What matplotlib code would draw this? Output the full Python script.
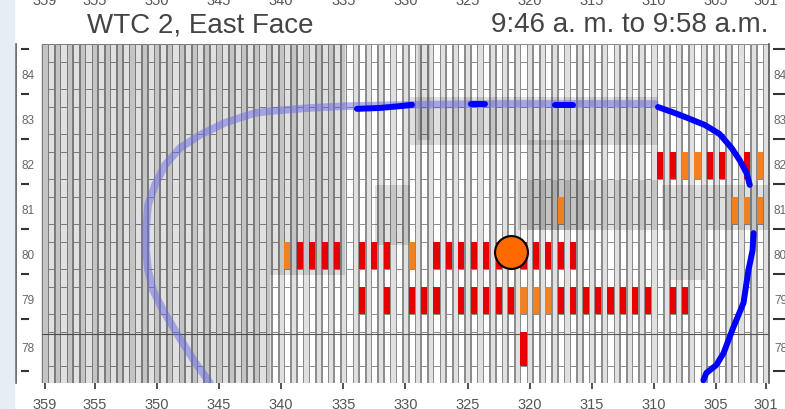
import numpy as np
import matplotlib.pyplot as plt
from matplotlib.patches import Rectangle

plt.rcParams['font.family'] = ['Liberation Sans', 'DejaVu Sans']

# facade grid: column numbers and floors
columns = np.arange(359, 300, -1)
floors = [84, 83, 82, 81, 80, 79, 78]
floor_bottom = [83.5, 82.5, 81.5, 80.5, 79.5, 78.5, 77.344]
xtick_cols = [359, 355, 350, 345, 340, 335, 330, 325, 320, 315, 310, 305, 301]

# windows with fire, named by the column on their left (higher number)
red_82 = [310, 309, 306, 305, 303]
orange_82 = [308, 307, 302]
orange_81 = [318, 304, 303, 302]
red_80 = [339, 338, 337, 336, 334, 333, 332, 328, 327, 326, 325, 324,
          323, 322, 321, 320, 319, 318, 317]
orange_80 = [340, 330]
red_79 = [334, 332, 330, 329, 328, 326, 325, 324, 323, 322,
          318, 317, 316, 315, 314, 313, 312, 311, 309, 308]
orange_79 = [321, 320, 319]
red_78 = [321]

# smoke obscured areas: column from, column to, floor from, floor to
haze_c0 = [359.3, 359.3, 329.0, 329.6, 320.1, 320.95, 332.45, 309.36, 308.7]
haze_c1 = [334.86, 340.9, 328.03, 309.7, 315.6, 309.7, 329.6, 300.83, 305.9]
haze_f0 = [79.48, 77.08, 82.48, 82.37, 80.48, 80.48, 80.14, 80.48, 79.37]
haze_f1 = [84.61, 79.48, 84.61, 83.43, 82.48, 81.59, 81.48, 81.48, 80.48]

# aircraft impact / damage outline (column, floor)
path_c = [345.73, 346.93, 348.30, 349.51, 350.31, 350.71, 350.87, 350.87, 350.71,
          350.15, 349.35, 348.14, 346.53, 344.52, 342.11, 340.09, 337.68, 334.86,
          329.47, 322.4, 309.93]
path_f = [77.08, 77.54, 78.14, 78.70, 79.14, 79.59, 80.03, 80.48, 81.03,
          81.48, 81.92, 82.30, 82.59, 82.86, 83.08, 83.14, 83.19, 83.23,
          83.26, 83.28, 83.28]
seg1_c, seg1_f = [333.90, 332.05, 330.44, 329.47], [83.17, 83.19, 83.23, 83.26]
seg2_c, seg2_f = [324.73, 323.60], [83.28, 83.28]
seg3_c, seg3_f = [317.97, 316.52], [83.26, 83.26]
seg4_c = [309.68, 308.55, 307.51, 305.90, 304.72, 303.76, 303.11, 302.55, 302.30]
seg4_f = [83.21, 83.10, 82.99, 82.81, 82.61, 82.30, 82.03, 81.74, 81.48]
seg5_c = [301.99, 302.07, 302.40, 302.80, 303.61, 304.41, 304.98, 305.79, 306.03]
seg5_f = [80.41, 80.03, 79.59, 78.86, 78.32, 77.74, 77.48, 77.30, 77.14]

origin_c, origin_f = 321.5, 80.0

ytop, ybot = 84.611, 77.078

fig = plt.figure(figsize=(7.85, 4.09), dpi=100)
fig.patches.append(Rectangle((0, 0), 14 / 785, 1, transform=fig.transFigure,
                             color='#e6edf5', zorder=0))
ax = fig.add_axes([16 / 785, 26 / 409, 753 / 785, 339 / 409])
ax.set_xlim(361.33, 300.75)
ax.set_ylim(ybot, ytop)

edge = '#8a8a8a'
slot_x = columns[:-1] - 0.5
ax.bar(slot_x, ytop - ybot, bottom=ybot, width=0.5, color='white',
       edgecolor=edge, lw=0.7, zorder=1)
ax.bar(columns, ytop - ybot, bottom=ybot, width=0.42, color='#e0e0e0',
       edgecolor=edge, lw=0.7, zorder=1)

win_top = {}
win_bot = {}
for f, fb in zip(floors, floor_bottom):
    win_top[f] = f + 0.5 - 0.289
    win_bot[f] = fb + 0.111
    ax.bar(slot_x, win_top[f] - win_bot[f], bottom=win_bot[f], width=0.5,
           color='white', edgecolor=edge, lw=0.7, zorder=2)

ax.hlines(78.17, columns[0] + 0.25, 300.75, color='#555555', lw=0.8, zorder=3)

for c0, c1, f0, f1 in zip(haze_c0, haze_c1, haze_f0, haze_f1):
    ax.add_patch(Rectangle((c1, f0), c0 - c1, f1 - f0, color='black',
                           alpha=0.12, lw=0, zorder=4))

fire = [(82, red_82, '#e60000'), (82, orange_82, '#f08020'),
        (81, orange_81, '#f08020'), (80, red_80, '#e60000'),
        (80, orange_80, '#f08020'), (79, red_79, '#e60000'),
        (79, orange_79, '#f08020'), (78, red_78, '#e60000')]
for f, cols, col in fire:
    ax.bar(np.array(cols) - 0.5, win_top[f] - win_bot[f], bottom=win_bot[f],
           width=0.5, color=col, lw=0, zorder=5)

ax.plot(path_c, path_f, color='#6a6ae6', alpha=0.5, lw=5.5,
        solid_capstyle='round', zorder=6)
for sc, sf in [(seg1_c, seg1_f), (seg2_c, seg2_f), (seg3_c, seg3_f),
               (seg4_c, seg4_f), (seg5_c, seg5_f)]:
    ax.plot(sc, sf, color='#0000ff', lw=4.3, solid_capstyle='round', zorder=7)

ax.scatter([origin_c], [origin_f], s=560, color='#ff6a00', edgecolor='black',
           lw=1.5, zorder=8)

# axes decoration
for s in ['top', 'bottom']:
    ax.spines[s].set_visible(False)
for s in ['left', 'right']:
    ax.spines[s].set_color('#555555')
    ax.spines[s].set_linewidth(1.2)

ax.set_xticks(xtick_cols)
ax.set_xticklabels([str(c) for c in xtick_cols])
ax.tick_params(axis='x', length=4, width=1.2, pad=7, labelsize=10.5,
               colors='#333333', labelcolor='#555555')
ax.set_yticks([])
top = ax.secondary_xaxis('top')
top.set_xticks(xtick_cols)
top.set_xticklabels([str(c) for c in xtick_cols])
top.tick_params(length=0, pad=26, labelsize=10.5, labelcolor='#555555')
top.spines['top'].set_visible(False)

bounds = [f + 0.5 for f in floors] + [floor_bottom[-1]]
ytr = ax.get_yaxis_transform()
ax.hlines(bounds, 0.0062, 0.0177, transform=ytr, color='#333333', lw=1.5,
          zorder=9)
ax.hlines(bounds, 1.0053, 1.03, transform=ytr, color='#333333', lw=1.5,
          clip_on=False)
for f in floors:
    mid = (win_top[f] + win_bot[f]) / 2
    ax.text(0.016, mid, str(f), transform=ytr, ha='center', va='center',
            fontsize=8.5, color='#666666')
    ax.text(1.0066, mid, str(f), transform=ytr, ha='left', va='center',
            fontsize=8.5, color='#666666', clip_on=False)

fig.text(87 / 785, 1 - 32 / 409, 'WTC 2, East Face', fontsize=20,
         color='#444444', va='baseline', ha='left')
fig.text(768 / 785, 1 - 32 / 409, '9:46 a. m. to 9:58 a.m.', fontsize=20,
         color='#444444', va='baseline', ha='right')

fig.savefig('out.png', dpi=100)
